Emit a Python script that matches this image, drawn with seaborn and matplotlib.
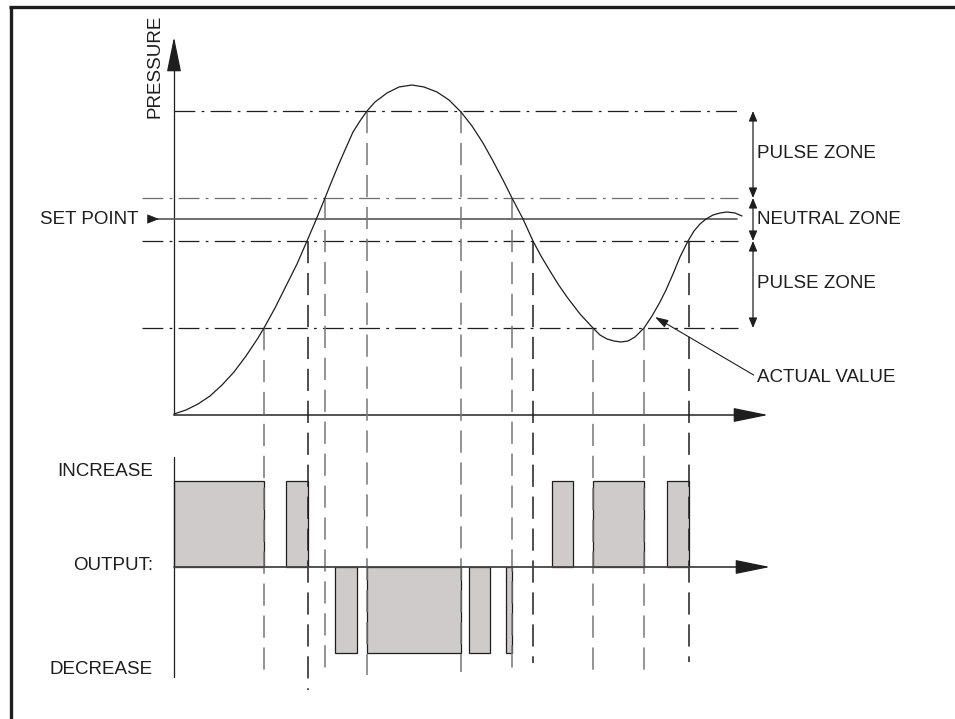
import numpy as np
import pandas as pd
import seaborn as sns
import matplotlib.pyplot as plt

# schematic drawn on a canvas-like frame (x to the right, y downwards)
levels = {"pulse_top": 111, "neutral_top": 198, "set_point": 219,
          "neutral_bottom": 241, "pulse_bottom": 328}

# actual value curve
curve_x = [174, 186, 198, 210, 222, 234, 246, 258, 264, 275, 287, 297, 307, 316, 325,
           331, 338, 345, 353, 360, 367, 375, 387, 399, 412, 424, 437, 449, 461, 472,
           483, 493, 503, 512, 523, 533, 541, 550, 558, 567, 580, 593, 600, 607, 614,
           621, 628, 635, 644, 652, 660, 666, 673, 680, 688, 694, 700, 706, 713, 720,
           727, 735, 742]
curve_y = [414, 410, 404, 396, 385, 372, 356, 338, 328, 308, 284, 264, 241, 220, 198,
           183, 166, 150, 132, 121, 111, 102, 93, 87, 85, 87, 92, 100, 112, 126,
           143, 161, 180, 198, 219, 241, 256, 271, 284, 297, 314, 328, 335, 339, 341,
           342, 341, 337, 328, 316, 302, 290, 274, 257, 241, 231, 224, 219, 215, 213,
           212, 213, 216]

# crossing times (vertical guide lines)
cross_x = [264, 308, 325, 367, 461, 512, 533, 593, 644, 689]
cross_top = [328, 241, 198, 111, 111, 198, 241, 328, 328, 241]
cross_bottom = [675, 690, 673, 675, 672, 676, 663, 673, 677, 662]
cross_dark = [False, True, False, False, False, False, True, False, False, True]

# output pulses
inc_start = [174, 286, 552, 593, 667]
inc_end = [264, 308, 573, 644, 689]
dec_start = [335, 367, 469, 506]
dec_end = [357, 461, 490, 512]
out_high, out_zero, out_low = 481, 567, 653

sns.set_theme(style="white")
plt.rcParams["font.family"] = ["Liberation Sans", "DejaVu Sans"]
plt.rcParams["lines.scale_dashes"] = False

fig = plt.figure(figsize=(9.55, 7.19), dpi=100)
ax = fig.add_axes([0, 0, 1, 1])

ink = "#1e1e1e"
grey = "#6e6e6e"
fs = 13.5

# frame
ax.plot([9, 955], [7, 7], color=ink, lw=2.4, solid_capstyle="butt")
ax.plot([10.5, 10.5], [6, 719], color=ink, lw=2.4, solid_capstyle="butt")

# pressure axes
ax.plot([174, 174], [60, 415], color=ink, lw=0.9)
ax.annotate("", xy=(174, 37), xytext=(174, 68),
            arrowprops=dict(arrowstyle="-|>,head_length=2.2,head_width=0.45",
                            mutation_scale=10, color=ink, lw=0.9, shrinkA=0, shrinkB=0))
ax.plot([174, 745], [415, 415], color="#444444", lw=1.3)
ax.annotate("", xy=(768, 415), xytext=(736, 415),
            arrowprops=dict(arrowstyle="-|>,head_length=2.2,head_width=0.45",
                            mutation_scale=10, color=ink, lw=0.9, shrinkA=0, shrinkB=0))
ax.text(155, 66, "PRESSURE", rotation=90, ha="center", va="center", fontsize=fs, color=ink)

# zone limits
dashdot = (0, (15, 4.5, 2, 4.5))
for key, x0, col in [("pulse_top", 174, ink), ("neutral_top", 142, grey),
                     ("neutral_bottom", 142, ink), ("pulse_bottom", 142, ink)]:
    ax.plot([x0, 738], [levels[key], levels[key]], color=col, lw=0.9, linestyle=dashdot)
ax.plot([158, 737], [levels["set_point"]] * 2, color="#555555", lw=1.2)
ax.annotate("", xy=(159, levels["set_point"]), xytext=(149, levels["set_point"]),
            arrowprops=dict(arrowstyle="-|>,head_length=0.75,head_width=0.3",
                            mutation_scale=10, color=ink, lw=0.5, shrinkA=0, shrinkB=0))
ax.text(138, levels["set_point"], "SET POINT", ha="right", va="center", fontsize=fs, color=ink)

# vertical guides
for x, y0, y1, dark in zip(cross_x, cross_top, cross_bottom, cross_dark):
    ax.plot([x, x], [y0, y1], color=ink if dark else "#777777", lw=1.1,
            linestyle=(0, (16, 7)))

# actual value curve
df = pd.DataFrame({"t": curve_x, "p": curve_y})
sns.lineplot(data=df, x="t", y="p", sort=False, estimator=None, color=ink, lw=0.9, ax=ax)

# zone arrows and labels
zone_pairs = [("pulse_top", "neutral_top", "PULSE ZONE", 154),
              ("neutral_top", "neutral_bottom", "NEUTRAL ZONE", 220),
              ("neutral_bottom", "pulse_bottom", "PULSE ZONE", 284)]
for a, b, label, ty in zone_pairs:
    ax.annotate("", xy=(753, levels[a]), xytext=(753, levels[b]),
                arrowprops=dict(arrowstyle="<|-|>,head_length=0.6,head_width=0.25",
                                mutation_scale=10, color=ink, lw=0.9, shrinkA=0, shrinkB=0))
    ax.text(757, ty, label, ha="left", va="center", fontsize=fs, color=ink)

ax.annotate("ACTUAL VALUE", xy=(655, 317), xytext=(757, 377), ha="left", va="center",
            fontsize=fs, color=ink,
            arrowprops=dict(arrowstyle="-|>,head_length=0.8,head_width=0.25",
                            mutation_scale=10, color=ink, lw=0.8, shrinkA=0, shrinkB=0,
                            relpos=(0, 0.5)))

# output panel
ax.plot([174, 174], [457, 677], color=ink, lw=0.9)
fill = "#d0cbcb"
ax.bar(inc_start, [out_high - out_zero] * len(inc_start),
       width=np.array(inc_end) - np.array(inc_start), bottom=out_zero, align="edge",
       color=fill, edgecolor=ink, linewidth=0.9)
ax.bar(dec_start, [out_low - out_zero] * len(dec_start),
       width=np.array(dec_end) - np.array(dec_start), bottom=out_zero, align="edge",
       color=fill, edgecolor=ink, linewidth=0.9)
ax.plot([174, 745], [out_zero, out_zero], color="#444444", lw=1.3)
ax.annotate("", xy=(770, out_zero), xytext=(738, out_zero),
            arrowprops=dict(arrowstyle="-|>,head_length=2.2,head_width=0.45",
                            mutation_scale=10, color=ink, lw=0.9, shrinkA=0, shrinkB=0))
ax.text(153, 472, "INCREASE", ha="right", va="center", fontsize=fs, color=ink)
ax.text(153, 565, "OUTPUT:", ha="right", va="center", fontsize=fs, color=ink)
ax.text(153, 670, "DECREASE", ha="right", va="center", fontsize=fs, color=ink)

ax.set_xlim(0, 955)
ax.set_ylim(719, 0)
ax.axis("off")

fig.savefig("out.png", dpi=100)
